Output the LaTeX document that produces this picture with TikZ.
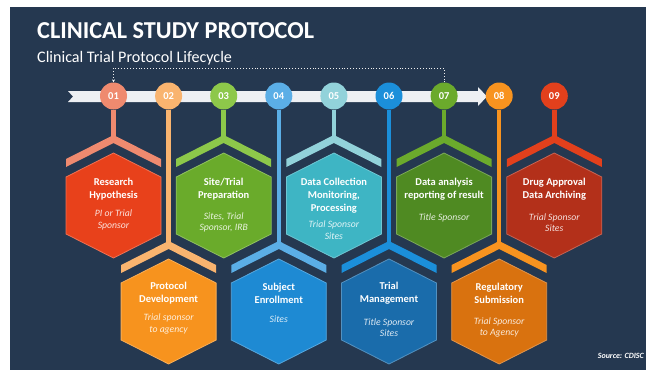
\documentclass[tikz,border=0pt]{standalone}
\usepackage{fontspec}
\setmainfont{Carlito}
\usetikzlibrary{arrows.meta}
\definecolor{bg}{HTML}{253850}
\definecolor{band}{HTML}{EEF0F3}
\definecolor{cA}{HTML}{EF8A6F}\definecolor{hA}{HTML}{E8411B}
\definecolor{cB}{HTML}{F9B46F}\definecolor{hB}{HTML}{F7931E}
\definecolor{cC}{HTML}{8DC84A}\definecolor{hC}{HTML}{6AAB2B}
\definecolor{cD}{HTML}{5BAEE6}\definecolor{hD}{HTML}{1E8AD3}
\definecolor{cE}{HTML}{92D2DA}\definecolor{hE}{HTML}{3EB5C4}
\definecolor{cF}{HTML}{1B8FDA}\definecolor{hF}{HTML}{1A6CAB}
\definecolor{cG}{HTML}{6BAA2C}\definecolor{hG}{HTML}{4F8A22}
\definecolor{cH}{HTML}{F8931F}\definecolor{hH}{HTML}{D9720F}
\definecolor{cI}{HTML}{E2401C}\definecolor{hI}{HTML}{B3301A}
\tikzset{
  numdot/.style={circle, minimum size=27pt, inner sep=0pt, text=white,
    font=\fontsize{10.5}{12}\selectfont\bfseries},
  ttl/.style={text=white, align=center, inner sep=0pt,
    font=\fontsize{10.5}{13}\selectfont\bfseries},
  subt/.style={align=center, inner sep=0pt,
    font=\fontsize{9.7}{11.5}\selectfont\itshape},
  dots/.style={dotted, line width=0.9pt, color=white!88!gray}
}
\newcommand\ctpstep[9]{%
  \node[numdot, fill=#4] (c#1) at (#2,96) {0#1};
  \coordinate (j#1) at (#2,#3);
  \coordinate (h#1) at ({#2},{#3+66.5});
  \draw[line width=4.5pt, color=#4] (c#1.south) -- (j#1);
  \fill[#4, shift={(j#1)}] (0,-4) -- (47.5,20) -- (47.5,28) -- (0,4)
     -- (-47.5,28) -- (-47.5,20) -- cycle;
  \filldraw[fill=#5, draw=white!25!#5, line width=0.8pt, shift={(h#1)}]
     (0,-52.5) -- (47.5,-28.5) -- (47.5,28.5) -- (0,52.5)
     -- (-47.5,28.5) -- (-47.5,-28.5) -- cycle;
  \node[ttl] (t#1) at (#2,#7) {#6};
  \node[subt, text=white!85!#5] (s#1) at (#2,#9) {#8};
}
\begin{document}
\begin{tikzpicture}[x=1pt,y=-1pt]
\useasboundingbox (0,0) rectangle (646,370);
\fill[bg] (10,7) rectangle (646,370);
\node[anchor=base west, inner sep=0pt, text=white,
  font=\fontsize{24.3}{27}\selectfont\bfseries] (title) at (37,38) {CLINICAL STUDY PROTOCOL};
\node[anchor=base west, inner sep=0pt, text=white,
  font=\fontsize{16.1}{18}\selectfont] (subtitle) at (37,62) {Clinical Trial Protocol Lifecycle};
% timeline band
\fill[band] (68,91) -- (478,91) -- (478,87) -- (487,96.5) -- (478,106)
  -- (478,102) -- (68,102) -- (73,96.5) -- cycle;
\ctpstep{1}{113.5}{139}{cA}{hA}{Research\\Hypothesis}{189.5}{PI or Trial\\Sponsor}{220}
\ctpstep{2}{168.6}{245}{cB}{hB}{Protocol\\Development}{293.5}{Trial sponsor\\to agency}{324}
\ctpstep{3}{223.7}{139}{cC}{hC}{Site/Trial\\Preparation}{189.5}{Sites, Trial\\Sponsor, IRB}{222.5}
\ctpstep{4}{278.8}{245}{cD}{hD}{Subject\\Enrollment}{293.5}{Sites}{319}
\ctpstep{5}{333.9}{139}{cE}{hE}{Data Collection\\Monitoring,\\Processing}{195.6}{Trial Sponsor\\Sites}{230}
\ctpstep{6}{389}{245}{cF}{hF}{Trial\\Management}{293.5}{Title Sponsor\\Sites}{327.5}
\ctpstep{7}{444.1}{139}{cG}{hG}{Data analysis\\reporting of result}{189.5}{Title Sponsor}{218}
\ctpstep{8}{499.2}{245}{cH}{hH}{Regulatory\\Submission}{293.5}{Trial Sponsor\\to Agency}{327.5}
\ctpstep{9}{554.3}{139}{cI}{hI}{Drug Approval\\Data Archiving}{189.5}{Trial Sponsor\\Sites}{222.5}
% dotted return line
\coordinate (dR) at (c7.north |- 0,68);
\coordinate (dL) at (c1.north |- 0,68);
\draw[dots, -{Stealth[length=3pt,width=3pt]}] (c7.north) -- (dR) -- (dL) -- (c1.north);
\node[anchor=east, inner sep=0pt, text=white,
  font=\fontsize{8}{9}\selectfont\bfseries\itshape] (src) at (644,356) {Source: CDISC};
\end{tikzpicture}
\end{document}
